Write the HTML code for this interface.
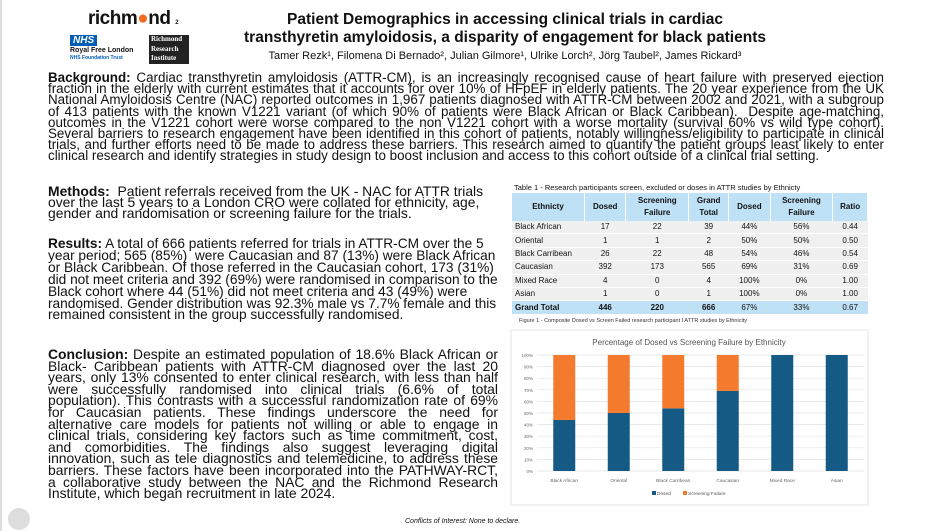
<!DOCTYPE html>
<html><head><meta charset="utf-8"><style>
body{margin:0;width:944px;height:531px;background:#fff;position:relative;overflow:hidden;font-family:"Liberation Sans",sans-serif;color:#111}
.a{position:absolute}
.p{font-size:13.9px;line-height:11.2px;margin:0}
b{font-weight:bold}
table{border-collapse:collapse;font-size:8px;position:absolute;left:512px;top:193px;width:356px}
td{padding:0 3px;height:12.4px;line-height:12px;text-align:center;border-bottom:1px solid #fff}
th{background:#bfe1f5;font-size:8px;font-weight:bold;height:26px;line-height:12px;border-right:1px solid #fff}
tr.d td{background:#f0f0f0}
tr.t td{background:#bfe1f5;font-weight:bold}
td:first-child{text-align:left}
</style></head><body>
<div class="a" style="left:0;top:0;width:2px;height:531px;background:#ddd"></div>
<div class="a" style="left:88px;top:8px;font-size:19px;font-weight:bold;letter-spacing:-0.5px">richm<span style="color:#f26b21">●</span>nd <span style="font-size:6px">2</span></div>
<div class="a" style="left:70px;top:35px;background:#005eb8;color:#fff;font-weight:bold;font-style:italic;font-size:10px;padding:0 3px">NHS</div>
<div class="a" style="left:70px;top:47px;font-size:7px;font-weight:bold">Royal Free London<br><span style="color:#005eb8;font-size:5px">NHS Foundation Trust</span></div>
<div class="a" style="left:149px;top:35px;width:38px;background:#222;color:#fff;font-family:'Liberation Serif',serif;font-size:7px;font-weight:bold;line-height:9.5px;padding-left:2px">Richmond<br>Research<br>Institute</div>
<div class="a" style="left:200px;top:11px;width:610px;text-align:center;font-size:15.5px;font-weight:bold;line-height:18px">Patient Demographics in accessing clinical trials in cardiac<br>transthyretin amyloidosis, a disparity of engagement for black patients</div>
<div class="a" style="left:200px;top:50px;width:610px;text-align:center;font-size:11px">Tamer Rezk¹, Filomena Di Bernado², Julian Gilmore¹, Ulrike Lorch², Jörg Taubel², James Rickard³</div>
<p class="a p" style="left:48px;top:72px;width:836px;font-size:13.4px;text-align:justify"><b>Background:</b> Cardiac transthyretin amyloidosis (ATTR-CM), is an increasingly recognised cause of heart failure with preserved ejection fraction in the elderly with current estimates that it accounts for over 10% of HFpEF in elderly patients. The 20 year experience from the UK National Amyloidosis Centre (NAC) reported outcomes in 1,967 patients diagnosed with ATTR-CM between 2002 and 2021, with a subgroup of 413 patients with the known V1221 variant (of which 90% of patients were Black African or Black Caribbean). &nbsp;Despite age-matching, outcomes in the V1221 cohort were worse compared to the non V1221 cohort with a worse mortality (survival 60% vs wild type cohort). Several barriers to research engagement have been identified in this cohort of patients, notably willingness/eligibility to participate in clinical trials, and further efforts need to be made to address these barriers. This research aimed to quantify the patient groups least likely to enter clinical research and identify strategies in study design to boost inclusion and access to this cohort outside of a clinical trial setting.</p>
<p class="a p" style="left:48px;top:186px;width:452px"><b>Methods:</b> &nbsp;Patient referrals received from the UK - NAC for ATTR trials over the last 5 years to a London CRO were collated for ethnicity, age, gender and randomisation or screening failure for the trials.</p>
<p class="a p" style="left:48px;top:238px;width:452px;line-height:11.9px;font-size:13.7px"><b>Results:</b> A total of 666 patients referred for trials in ATTR-CM over the 5 year period; 565 (85%) &nbsp;were Caucasian and 87 (13%) were Black African or Black Caribbean. Of those referred in the Caucasian cohort, 173 (31%) did not meet criteria and 392 (69%) were randomised in comparison to the Black cohort where 44 (51%) did not meet criteria and 43 (49%) were randomised. Gender distribution was 92.3% male vs 7.7% female and this remained consistent in the group successfully randomised.</p>
<p class="a p" style="left:48px;top:349px;width:450px;text-align:justify;line-height:11.6px"><b>Conclusion:</b> Despite an estimated population of 18.6% Black African or Black- Caribbean patients with ATTR-CM diagnosed over the last 20 years, only 13% consented to enter clinical research, with less than half were successfully randomised into clinical trials (6.6% of total population). This contrasts with a successful randomization rate of 69% for Caucasian patients. These findings underscore the need for alternative care models for patients not willing or able to engage in clinical trials, considering key factors such as time commitment, cost, and comorbidities. The findings also suggest leveraging digital innovation, such as tele diagnostics and telemedicine, to address these barriers. These factors have been incorporated into the PATHWAY-RCT, a collaborative study between the NAC and the Richmond Research Institute, which began recruitment in late 2024.</p>
<div class="a" style="left:514px;top:183px;font-size:7.5px">Table 1 - Research participants screen, excluded or doses in ATTR studies by Ethnicty</div>
<table>
<tr><th style="width:70px">Ethnicty</th><th>Dosed</th><th>Screening<br>Failure</th><th>Grand<br>Total</th><th>Dosed</th><th>Screening<br>Failure</th><th>Ratio</th></tr>
<tr class="d"><td>Black African</td><td>17</td><td>22</td><td>39</td><td>44%</td><td>56%</td><td>0.44</td></tr>
<tr class="d"><td>Oriental</td><td>1</td><td>1</td><td>2</td><td>50%</td><td>50%</td><td>0.50</td></tr>
<tr class="d"><td>Black Carribean</td><td>26</td><td>22</td><td>48</td><td>54%</td><td>46%</td><td>0.54</td></tr>
<tr class="d"><td>Caucasian</td><td>392</td><td>173</td><td>565</td><td>69%</td><td>31%</td><td>0.69</td></tr>
<tr class="d"><td>Mixed Race</td><td>4</td><td>0</td><td>4</td><td>100%</td><td>0%</td><td>1.00</td></tr>
<tr class="d"><td>Asian</td><td>1</td><td>0</td><td>1</td><td>100%</td><td>0%</td><td>1.00</td></tr>
<tr class="t"><td>Grand Total</td><td>446</td><td>220</td><td>666</td><td style="font-weight:normal">67%</td><td style="font-weight:normal">33%</td><td style="font-weight:normal">0.67</td></tr>
</table>
<div class="a" style="left:519px;top:318px;font-size:5.5px;color:#333">Figure 1 - Composite Dosed vs Screen Failed research participant I ATTR studies by Ethnicity</div>
<svg class="a" id="chart" style="left:0;top:0" width="944" height="531"></svg>
<div class="a" style="left:405px;top:518px;font-size:7px;font-style:italic">Conflicts of Interest: None to declare.</div>
<div class="a" style="left:8px;top:508px;width:22px;height:22px;border-radius:50%;background:#ddd"></div>
<script>
const categories=["Black African","Oriental","Black Carribean","Caucasian","Mixed Race","Asian"];
const dosedPct=[44,50,54,69,100,100];
const failPct=[56,50,46,31,0,0];
const ticks=[0,10,20,30,40,50,60,70,80,90,100];
const svg=document.getElementById('chart');
const NS='http://www.w3.org/2000/svg';
const x0=537,x1=864,yTop=355,yBot=471;
const y=v=>yBot-(v/100)*(yBot-yTop);
const bw=(x1-x0)/categories.length;
const cx=i=>x0+bw*(i+0.5);
function mk(t,a,txt){const e=document.createElementNS(NS,t);for(const k in a)e.setAttribute(k,a[k]);if(txt!=null)e.textContent=txt;svg.appendChild(e);return e;}
let f=mk('rect',{x:511,y:330,width:357,height:175,fill:'#fff',stroke:'#e6e6e6'});


let t=mk('text',{x:689,y:345,'text-anchor':'middle','font-size':'8px',fill:'#555','font-family':'Liberation Sans'},'Percentage of Dosed vs Screening Failure by Ethnicity');


ticks.forEach(v=>{
 let g=mk('line',{x1:x0,x2:x1,y1:y(v),y2:y(v),stroke:'#e3e3e3','stroke-width':0.7});
 
 
 let l=mk('text',{x:x0-4,y:y(v)+2,'text-anchor':'end','font-size':'4.5px',fill:'#666','font-family':'Liberation Sans'},v+'%');
 
 
});
categories.forEach((c,i)=>{
 const w=22,x=cx(i)-w/2;
 let a=mk('rect',{x:x,y:y(dosedPct[i]),width:w,height:yBot-y(dosedPct[i]),fill:'#155a85'});
 
 
 let b=mk('rect',{x:x,y:y(dosedPct[i]+failPct[i]),width:w,height:y(dosedPct[i])-y(dosedPct[i]+failPct[i]),fill:'#f47a2d'});
 
 
 let l=mk('text',{x:cx(i),y:482,'text-anchor':'middle','font-size':'4.8px',fill:'#666','font-family':'Liberation Sans'},c);
 
 
});
[['#155a85','Dosed',652],['#f47a2d','Screening Failure',683]].forEach(([col,n,x])=>{
 let r=mk('rect',{x:x,y:491,width:4,height:4,fill:col});
 
 
 let l=mk('text',{x:x+5,y:495,'font-size':'4.8px',fill:'#555','font-family':'Liberation Sans'},n);
 
 
});
</script>
</body></html>
